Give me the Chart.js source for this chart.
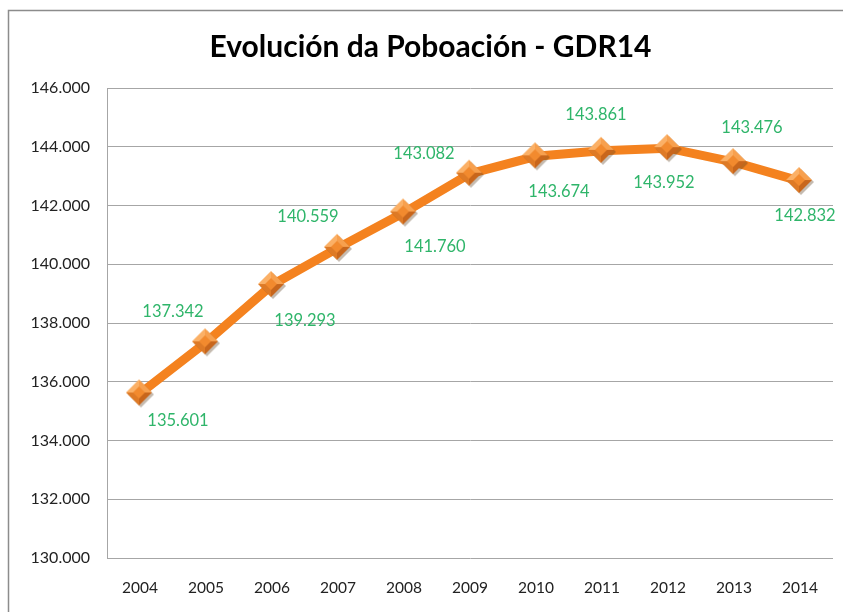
<!DOCTYPE html>
<html>
<head>
<meta charset="utf-8">
<script src="https://cdn.jsdelivr.net/npm/chart.js@4.4.0/dist/chart.umd.min.js"></script>
<style>
  html, body { margin: 0; padding: 0; background: #fff; overflow: hidden; }
  #wrap { width: 843px; height: 612px; }
</style>
</head>
<body>
<div id="wrap"><canvas id="popChart" width="843" height="612"></canvas></div>
<script>
// data
const years = ['2004', '2005', '2006', '2007', '2008', '2009', '2010', '2011', '2012', '2013', '2014'];
const population = [135601, 137342, 139293, 140559, 141760, 143082, 143674, 143861, 143952, 143476, 142832];
const yMin = 130000;
const yMax = 146000;
const yStep = 2000;

// where each value label sits relative to its marker (px)
const labelOffsets = [
    [38, 27], [-33, -31], [33, 36], [-30, -31], [31, 34], [-46, -20],
    [23, 35], [-6, -36], [-4, 35], [18, -34], [5, 35]
];

function fmt(v) {
    return String(v).replace(/\B(?=(\d{3})+(?!\d))/g, '.');
}

// bevelled diamond marker
function makeDiamond() {
    const s = 30, c = 14, r = 13;
    const cv = document.createElement('canvas');
    cv.width = s; cv.height = s;
    const g = cv.getContext('2d');
    // soft shadow
    g.fillStyle = 'rgba(90,60,30,0.35)';
    g.beginPath();
    g.moveTo(c + 2, c - r + 2); g.lineTo(c + r + 2, c + 2); g.lineTo(c + 2, c + r + 2); g.lineTo(c - r + 2, c + 2);
    g.closePath(); g.fill();
    const facets = [
        [[c, c - r], [c + r, c], '#F7A04E'],
        [[c + r, c], [c, c + r], '#C8661C'],
        [[c, c + r], [c - r, c], '#DE7A26'],
        [[c - r, c], [c, c - r], '#FBB066']
    ];
    facets.forEach(f => {
        g.fillStyle = f[2];
        g.beginPath();
        g.moveTo(c, c); g.lineTo(f[0][0], f[0][1]); g.lineTo(f[1][0], f[1][1]);
        g.closePath(); g.fill();
    });
    // flat centre
    g.fillStyle = '#F28A2E';
    g.beginPath();
    g.moveTo(c, c - 6); g.lineTo(c + 6, c); g.lineTo(c, c + 6); g.lineTo(c - 6, c);
    g.closePath(); g.fill();
    return cv;
}

const valueLabels = {
    id: 'valueLabels',
    afterDatasetsDraw(chart) {
        const ctx = chart.ctx;
        const meta = chart.getDatasetMeta(0);
        ctx.save();
        ctx.font = '16.5px Lato';
        ctx.fillStyle = '#2FB56A';
        ctx.textAlign = 'center';
        ctx.textBaseline = 'middle';
        meta.data.forEach((pt, i) => {
            const o = labelOffsets[i];
            ctx.fillText(fmt(population[i]), pt.x + o[0], pt.y + o[1]);
        });
        ctx.restore();
    }
};

const frame = {
    id: 'frame',
    beforeDraw(chart) {
        const ctx = chart.ctx;
        ctx.save();
        ctx.strokeStyle = '#8C8C8C';
        ctx.lineWidth = 1.5;
        ctx.strokeRect(8.5, 10.5, 900, 700);
        ctx.restore();
    }
};

document.addEventListener('DOMContentLoaded', () => {
    const ctx = document.getElementById('popChart').getContext('2d');
    new Chart(ctx, {
        type: 'line',
        data: {
            labels: years,
            datasets: [{
                label: 'Poboación',
                data: population,
                borderColor: '#F4821F',
                borderWidth: 9,
                tension: 0,
                pointStyle: makeDiamond(),
                pointRadius: 14,
                pointHoverRadius: 14
            }]
        },
        options: {
            responsive: false,
            animation: false,
            events: [],
            layout: { autoPadding: false, padding: { left: 28, right: 10, top: 0, bottom: 15 } },
            plugins: {
                legend: { display: false },
                tooltip: { enabled: false },
                title: {
                    display: true,
                    text: 'Evolución da Poboación - GDR14',
                    color: '#000',
                    font: { family: 'Lato', size: 30, weight: 'bold' },
                    padding: { top: 29, bottom: 23 }
                }
            },
            scales: {
                x: {
                    offset: true,
                    grid: { display: false, drawTicks: true, tickLength: 21 },
                    border: { display: false },
                    afterFit: (scale) => {
                        scale.height = 39;
                        scale.paddingLeft = 0;
                        scale.paddingRight = 0;
                    },
                    ticks: { color: '#222', font: { family: 'Lato', size: 15.5 }, padding: 0 }
                },
                y: {
                    min: yMin,
                    max: yMax,
                    afterFit: (scale) => { scale.width = 79; },
                    grid: { color: '#A6A6A6', lineWidth: 1, drawTicks: false },
                    border: { display: true, color: '#A6A6A6' },
                    ticks: {
                        stepSize: yStep,
                        padding: 17,
                        color: '#222',
                        font: { family: 'Lato', size: 16 },
                        callback: (v) => fmt(v)
                    }
                }
            }
        },
        plugins: [frame, valueLabels]
    });
});
</script>
</body>
</html>
